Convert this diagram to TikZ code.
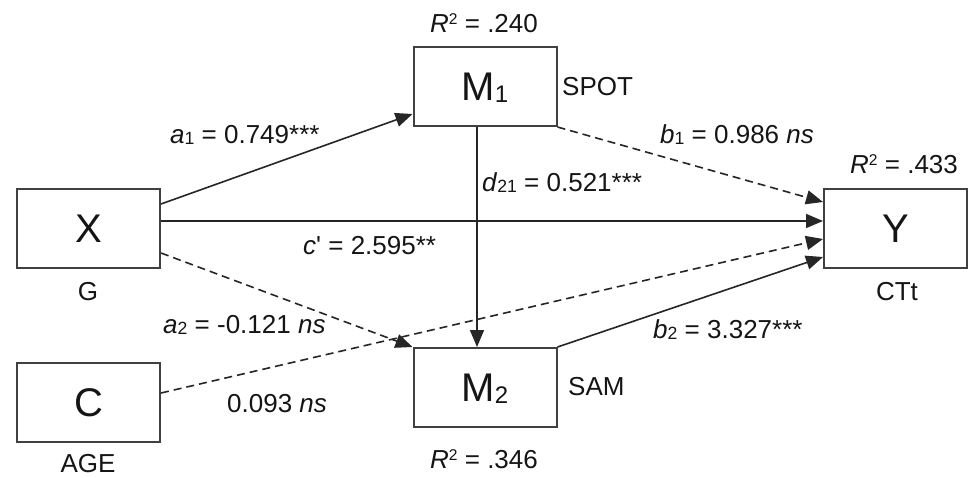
\documentclass[tikz,border=0pt]{standalone}
\usepackage{fontspec}
\setmainfont{Liberation Sans}
\usetikzlibrary{arrows.meta}
\definecolor{ink}{HTML}{151515}
\definecolor{boxgray}{HTML}{404040}
\definecolor{linegray}{HTML}{262626}
% small indices set close to the baseline, as in the path labels
\newcommand\idx[1]{\raisebox{-0.07em}{\scalebox{0.68}{#1}}}
\newcommand\boxidx[1]{\raisebox{-0.05em}{\scalebox{0.6}{#1}}}
\newcommand\sq[1]{\raisebox{0.3em}{\scalebox{0.6}{#1}}}
\begin{document}
\begin{tikzpicture}[x=1pt,y=-1pt,
  var/.style={draw=boxgray, line width=2pt, minimum width=143pt, minimum height=79pt,
    inner sep=0pt, font=\fontsize{40}{48}\selectfont, text height=28.6pt, text depth=0pt, text=ink},
  lbl/.style={inner sep=0pt, font=\fontsize{26}{31}\selectfont, text=ink},
  conn/.style={draw=linegray, line width=1.6pt, -{Triangle[length=17pt,width=14pt]}},
  conndash/.style={conn, dash pattern=on 8pt off 5pt}
]
\fill[white] (0,0) rectangle (972,477);
\useasboundingbox (0,0) rectangle (972,477);

% variables
\node[var] (X)  at (88.5,228.5) {X};
\node[var] (C)  at (88.5,402.5) {C};
\node[var] (M1) at (485,86.5)   {M\boxidx{1}};
\node[var] (M2) at (485,387.5)  {M\boxidx{2}};
\node[var] (Y)  at (895.5,228.5) {Y};

% paths
\draw[conn]     ([yshift=24.5pt]X.east) -- ([yshift=13pt]M1.south west);
\draw[conn]     ([yshift=7.5pt]X.east) -- ([yshift=7.5pt]Y.west);
\draw[conndash] ([yshift=-24.5pt]X.east) -- (M2.north west);
\draw[conndash] ([yshift=9.5pt]C.east) -- ([yshift=-10.5pt]Y.west);
\draw[conndash] (M1.south east) -- ([yshift=26.5pt]Y.west);
\draw[conn]     (M2.north east) -- ([yshift=-28.5pt]Y.west);
\draw[conn]     ([xshift=-8pt]M1.south) -- ([xshift=-8pt]M2.north);

% variable names and explained variance
\node[lbl, anchor=base west] (r1)   at (430,32)  {\textit{R}\sq{2} = .240};
\node[lbl, anchor=base west] (spot) at (562,95)  {SPOT};
\node[lbl, anchor=base west] (r3)   at (850,173) {\textit{R}\sq{2} = .433};
\node[lbl, anchor=base]      (g)    at (88,300)  {G};
\node[lbl, anchor=base]      (ctt)  at (897,300) {CTt};
\node[lbl, anchor=base west] (sam)  at (568,395) {SAM};
\node[lbl, anchor=base west] (r2)   at (430,468) {\textit{R}\sq{2} = .346};
\node[lbl, anchor=base]      (age)  at (88,472)  {AGE};

% path coefficients
\node[lbl, anchor=base west] (la1)  at (170,143) {\textit{a}\idx{1} = 0.749***};
\node[lbl, anchor=base west] (lb1)  at (660,143) {\textit{b}\idx{1} = 0.986 \textit{ns}};
\node[lbl, anchor=base west] (ld21) at (482,191) {\textit{d}\idx{21} = 0.521***};
\node[lbl, anchor=base west] (lc)   at (303,254) {\textit{c}\textquotesingle{} = 2.595**};
\node[lbl, anchor=base west] (la2)  at (163,333) {\textit{a}\idx{2} = -0.121 \textit{ns}};
\node[lbl, anchor=base west] (lb2)  at (653,338) {\textit{b}\idx{2} = 3.327***};
\node[lbl, anchor=base west] (lcy)  at (227,412) {0.093 \textit{ns}};
\end{tikzpicture}
\end{document}
